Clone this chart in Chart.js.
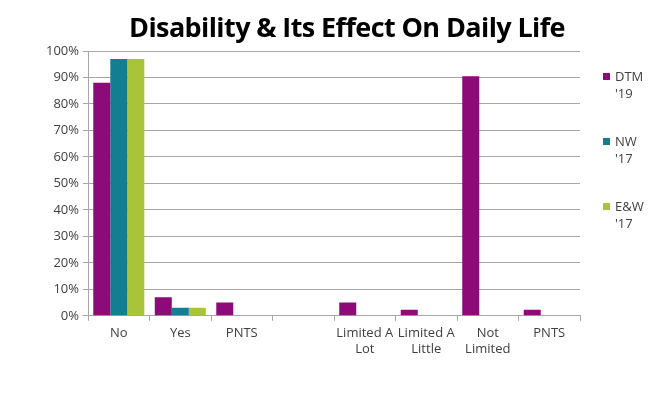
<!DOCTYPE html>
<html>
<head>
<meta charset="utf-8">
<script src="https://cdn.jsdelivr.net/npm/chart.js@4"></script>
<style>
  html, body { margin: 0; padding: 0; background: #fff; }
  #wrap { position: relative; width: 658px; height: 393px; font-family: 'Open Sans', sans-serif; }
  #title { position: absolute; left: 0; width: 694px; top: 8px; text-align: center; font-size: 27px; font-weight: bold; color: #000; letter-spacing: -0.6px; }
  #legend { position: absolute; left: 603px; top: 68px; font-size: 13px; color: #404040; line-height: 17px; }
  .item { position: relative; padding-left: 12px; height: 65px; }
  .box { position: absolute; left: 0; top: 5px; width: 7px; height: 7px; }
</style>
</head>
<body>
<div id="wrap">
  <div id="title">Disability &amp; Its Effect On Daily Life</div>
  <canvas id="chart" width="658" height="393"></canvas>
  <div id="legend"></div>
</div>
<script>
// ─── Datos ───────────────────────────────────────────────────────────────────
const categories = ['No', 'Yes', 'PNTS', '', ['Limited A', 'Lot'], ['Limited A', 'Little'], ['Not', 'Limited'], 'PNTS'];
const seriesNames = [['DTM', "'19"], ['NW', "'17"], ['E&W', "'17"]];
const dtm19 = [88, 7, 5, null, 5, 2.3, 90.5, 2.3];
const nw17  = [97, 3, null, null, null, null, null, null];
const ew17  = [97, 3, null, null, null, null, null, null];
const yTicks = [0, 10, 20, 30, 40, 50, 60, 70, 80, 90, 100];
const colors = ['#8c0b79', '#137d91', '#a9c43a'];

const data = [dtm19, nw17, ew17];

// ─── Leyenda (HTML, texto en dos líneas) ─────────────────────────────────────
const lg = document.getElementById('legend');
seriesNames.forEach((n, i) => {
  const d = document.createElement('div');
  d.className = 'item';
  d.innerHTML = `<span class="box" style="background:${colors[i]}"></span>${n[0]}<br>${n[1]}`;
  lg.appendChild(d);
});

// ─── Gráfica de barras ───────────────────────────────────────────────────────
const ctx = document.getElementById('chart').getContext('2d');
new Chart(ctx, {
  type: 'bar',
  data: {
    labels: categories,
    datasets: data.map((d, i) => ({
      label: seriesNames[i].join(' '), data: d, backgroundColor: colors[i], borderWidth: 0,
    })),
  },
  options: {
    responsive: false, animation: false,
    layout: { padding: { left: 42, right: 78, top: 51, bottom: 31 } },
    datasets: { bar: { categoryPercentage: 0.83, barPercentage: 1 } },
    plugins: { legend: { display: false }, title: { display: false }, tooltip: { enabled: false } },
    scales: {
      x: {
        grid: { display: true, offset: true, drawOnChartArea: false, color: '#a6a6a6', tickLength: 5 },
        border: { color: '#a6a6a6' },
        ticks: { color: '#404040', font: { family: 'Open Sans', size: 13 }, maxRotation: 0, autoSkip: false, padding: 5 },
      },
      y: {
        min: 0, max: 100,
        afterBuildTicks: ax => { ax.ticks = yTicks.map(v => ({ value: v })); },
        grid: { color: '#a6a6a6', tickLength: 5 },
        border: { color: '#a6a6a6' },
        ticks: { color: '#404040', font: { family: 'Open Sans', size: 13 }, padding: 4, callback: v => v + '%' },
      },
    },
  },
});
</script>
</body>
</html>
